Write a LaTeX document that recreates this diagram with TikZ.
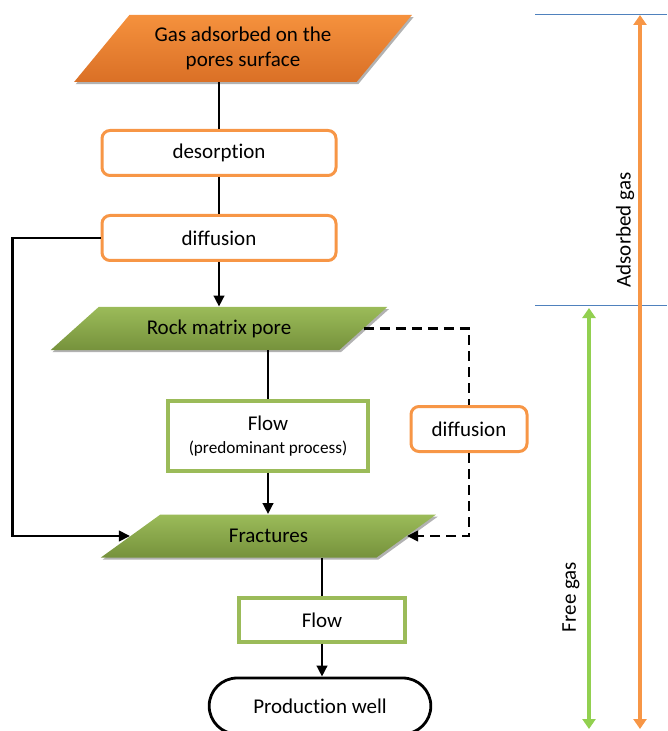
\documentclass[tikz,border=0pt]{standalone}
\usepackage{fontspec}
\setmainfont{Carlito}[Ligatures=NoCommon]
\usetikzlibrary{shapes.geometric,shapes.misc,shadows,arrows.meta}
\definecolor{orangeline}{HTML}{F79646}
\definecolor{orangetop}{HTML}{F5913D}
\definecolor{orangebot}{HTML}{DA7026}
\definecolor{greentop}{HTML}{9BBB59}
\definecolor{greenbot}{HTML}{76923C}
\definecolor{greenline}{HTML}{9BBB59}
\definecolor{freegreen}{HTML}{92D050}
\definecolor{splitblue}{HTML}{4F81BD}

\begin{document}
\begin{tikzpicture}
            [x=0.5pt, y=-0.5pt, font=\fontsize{10.5}{12.5}\selectfont,
            paraorange/.style={trapezium, trapezium stretches=true, trapezium left angle=45, trapezium right angle=135,
                top color=orangetop, bottom color=orangebot, draw=none, inner sep=0pt, align=center,
                drop shadow={shadow xshift=0.8pt, shadow yshift=-1.1pt, fill=gray!60, opacity=1},
                minimum width=169pt, minimum height=33.5pt},
            paragreen/.style={trapezium, trapezium stretches=true, trapezium left angle=32, trapezium right angle=148,
                top color=greentop, bottom color=greenbot, draw=none, inner sep=0pt,
                drop shadow={shadow xshift=0.8pt, shadow yshift=-1.1pt, fill=gray!60, opacity=1},
                minimum width=168.5pt, minimum height=21.5pt},
            orangebox/.style={rectangle, rounded corners=4pt, draw=orangeline, line width=1.5pt, fill=white,
                minimum height=22.5pt},
            greenbox/.style={rectangle, draw=greenline, line width=1.6pt, fill=white, align=center},
            wellnode/.style={rounded rectangle, draw=black, line width=1.4pt, fill=white,
                minimum width=117.5pt, minimum height=28pt},
            link/.style={line width=1.3pt},
            arr/.style={line width=1.3pt, -{Triangle[length=5.5pt,width=5.2pt]}},
            dashlink/.style={line width=1.3pt, dash pattern=on 5pt off 3pt},
            dasharr/.style={dashlink, -{Triangle[length=5.5pt,width=5.2pt]}},
            gasarr/.style={{Triangle[length=5pt,width=6.5pt]}-{Triangle[length=5pt,width=6.5pt]}}]

            \useasboundingbox (0,0) rectangle (667,731);

            \node[paraorange] (gas) at (243,48.5) {Gas adsorbed on the\\pores surface};
            \node[orangebox, minimum width=117pt] (desorb) at (219,153) {desorption};
            \node[orangebox, minimum width=117pt] (diff1) at (219,238) {diffusion};
            \node[paragreen] (rock) at (219,328.5) {Rock matrix pore};
            \node[greenbox, minimum width=100pt, minimum height=35pt] (flow) at (268,436)
                {Flow\\[-1pt]{\fontsize{8.6}{10}\selectfont (predominant process)}};
            \node[orangebox, minimum width=58pt] (diff2) at (469,429) {diffusion};
            \node[paragreen] (frac) at (268.5,536) {Fractures};
            \node[greenbox, minimum width=83pt, minimum height=22pt] (flow2) at (322,620) {Flow};
            \node[wellnode] (well) at (320,706) {Production well};

            \draw[link] (desorb.north |- gas.south) -- (desorb.north);
            \draw[link] (desorb) -- (diff1);
            \draw[arr] (diff1.south) -- (diff1.south |- rock.north);
            \draw[arr] (diff1.west) -- ++(-88,0) |- (frac.west);
            \draw[link] (flow.north |- rock.south) -- (flow.north);
            \draw[arr] (flow.south) -- (flow.south |- frac.north);
            \draw[dashlink] (rock.east) -| (diff2.north);
            \draw[dasharr] (diff2.south) |- (frac.east);
            \draw[link] (flow2.north |- frac.south) -- (flow2.north);
            \draw[arr] (flow2.south) -- (flow2.south |- well.north);

            \coordinate (top1) at (535,15);
            \coordinate (top2) at (667,15);
            \coordinate (mid1) at (535,306);
            \coordinate (mid2) at (667,306);
            \coordinate (adstop) at (640,15);
            \coordinate (adsbot) at (640,729);
            \coordinate (freetop) at (589,308);
            \coordinate (freebot) at (589,729);

            \draw[splitblue, line width=0.5pt] (top1) -- (top2);
            \draw[splitblue, line width=0.5pt] (mid1) -- (mid2);
            \draw[gasarr, orangeline, line width=2pt] (adstop) -- (adsbot);
            \draw[gasarr, freegreen, line width=2.4pt] (freetop) -- (freebot);
            \node[rotate=90] (adslabel) at (625,230) {Adsorbed gas};
            \node[rotate=90] (freelabel) at (571,597) {Free gas};

        \end{tikzpicture}
\end{document}
